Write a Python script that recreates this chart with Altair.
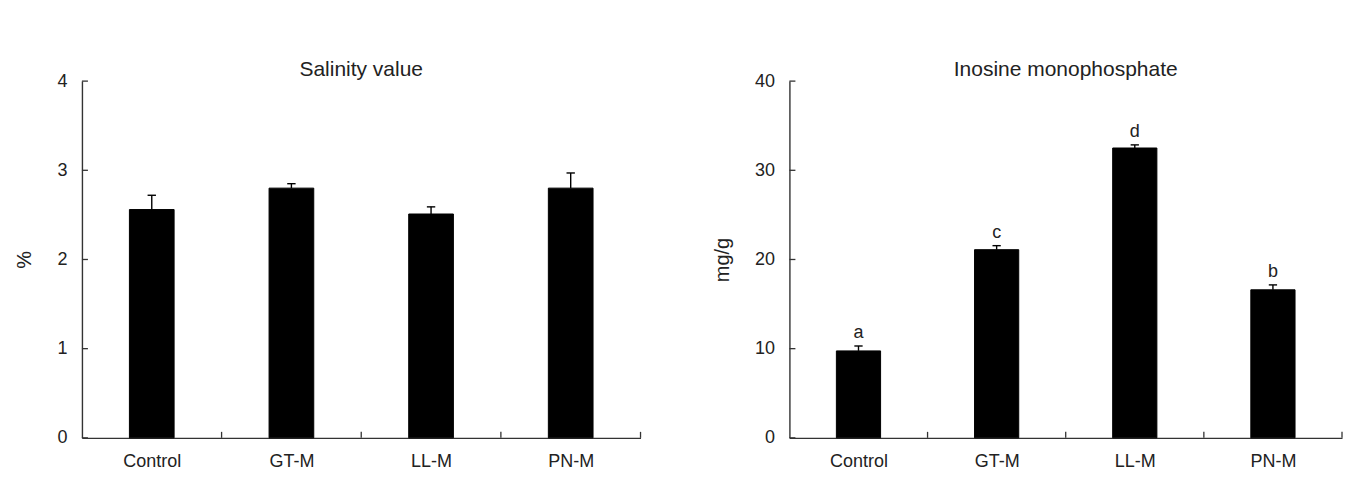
import altair as alt
import pandas as pd

categories = ["Control", "GT-M", "LL-M", "PN-M"]
salinity_mean = [2.56, 2.80, 2.51, 2.80]
salinity_sd = [0.16, 0.05, 0.08, 0.17]
imp_mean = [9.75, 21.1, 32.5, 16.6]
imp_sd = [0.55, 0.45, 0.35, 0.55]
imp_letters = ["a", "c", "d", "b"]
salinity_ticks = [0, 1, 2, 3, 4]
imp_ticks = [0, 10, 20, 30, 40]
boundaries = [1, 2, 3, 4]

FONT = "Liberation Sans"
TXT = "#222222"
H = 357


def panel(means, sds, letters, yticks, title, ytitle, width):
    df = pd.DataFrame({
        "cat": categories,
        "pos": [i + 0.5 for i in range(len(categories))],
        "val": means,
        "sd": sds,
        "letter": letters,
    })
    ymax = yticks[-1]
    xscale = alt.Scale(domain=[0, 4], nice=False, zero=False)
    yscale = alt.Scale(domain=[0, ymax], nice=False)
    label_expr = "[" + ",".join("'%s'" % c for c in categories) + "][floor(datum.value)]"
    base = alt.Chart(df).transform_calculate(
        lo="datum.pos - 0.16", hi="datum.pos + 0.16",
        top="datum.val + datum.sd",
        clo="datum.pos - 0.03", chi="datum.pos + 0.03",
    )
    bars = base.mark_bar(color="black", stroke="black", strokeWidth=1).encode(
        x=alt.X("lo:Q", scale=xscale, axis=alt.Axis(
            values=[0.5, 1.5, 2.5, 3.5], labelExpr=label_expr, title=None,
            ticks=False, tickSize=0, grid=False, domainColor="#333333", domainWidth=1.4,
            labelFont=FONT, labelFontSize=18, labelColor=TXT, labelPadding=15)),
        x2="hi:Q",
        y=alt.Y("val:Q", scale=yscale, axis=alt.Axis(
            values=yticks, format="d", title=ytitle, ticks=False, tickSize=0, grid=False,
            domainColor="#333333", domainWidth=1.4,
            labelFont=FONT, labelFontSize=18, labelColor=TXT, labelPadding=15,
            titleFont=FONT, titleFontSize=20, titleFontWeight="normal", titleColor=TXT,
            titlePadding=22)),
        y2=alt.datum(0),
    )
    err = base.mark_rule(color="black", strokeWidth=1.4).encode(
        x=alt.X("pos:Q", scale=xscale), y=alt.Y("val:Q", scale=yscale), y2="top:Q")
    cap = base.mark_rule(color="black", strokeWidth=1.4).encode(
        x=alt.X("clo:Q", scale=xscale), x2="chi:Q", y=alt.Y("top:Q", scale=yscale))
    ytk = alt.Chart(pd.DataFrame({"v": yticks})).mark_rule(color="#333333", strokeWidth=1.3).encode(
        x=alt.value(0), x2=alt.value(6), y=alt.Y("v:Q", scale=yscale))
    xtk = alt.Chart(pd.DataFrame({"b": boundaries})).mark_rule(color="#333333", strokeWidth=1.3).encode(
        x=alt.X("b:Q", scale=xscale), y=alt.value(H), y2=alt.value(H - 6))
    ttl = alt.Chart(pd.DataFrame({"t": [title]})).mark_text(
        font=FONT, fontSize=21, color=TXT, baseline="alphabetic", align="center").encode(
        x=alt.value(width / 2), y=alt.value(-5), text="t:N")
    layers = [bars, err, cap, ytk, xtk, ttl]
    if any(letters):
        lt = base.mark_text(font=FONT, fontSize=18, color=TXT, baseline="bottom", dy=-4).encode(
            x=alt.X("pos:Q", scale=xscale), y=alt.Y("top:Q", scale=yscale), text="letter:N")
        layers.append(lt)
    return alt.layer(*layers).properties(width=width, height=H)


left = panel(salinity_mean, salinity_sd, ["", "", "", ""], salinity_ticks, "Salinity value", "%", 559)
right = panel(imp_mean, imp_sd, imp_letters, imp_ticks, "Inosine monophosphate", "mg/g", 553)

chart = alt.hconcat(left, right, spacing=70).properties(
    padding={"left": 14, "top": 59, "right": 5, "bottom": 5}
).configure(background="white").configure_view(stroke=None)

chart.save("out.html", embed_options={"renderer": "svg", "actions": False})
